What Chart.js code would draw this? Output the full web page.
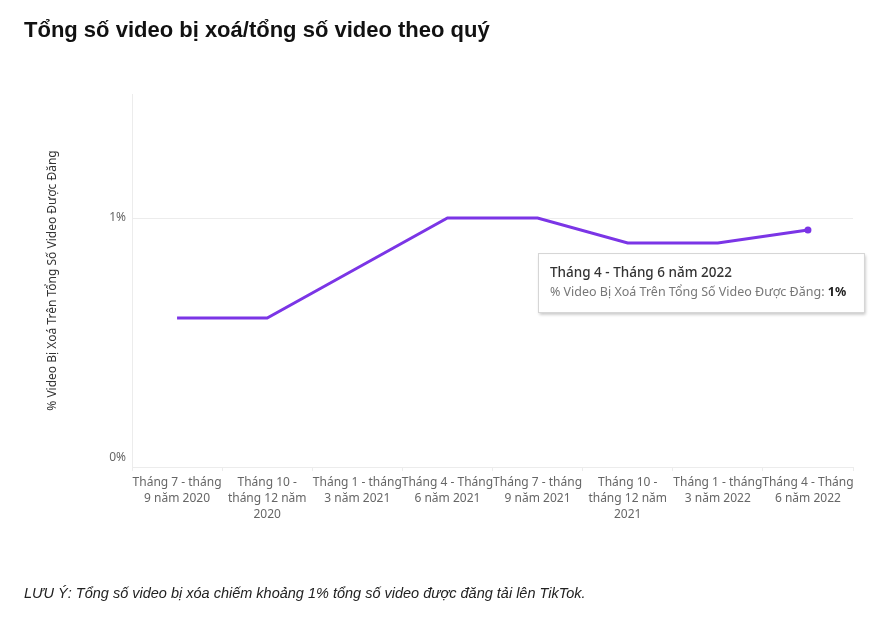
<!DOCTYPE html>
<html>
<head>
<meta charset="utf-8">
<script src="https://cdn.jsdelivr.net/npm/chart.js@4.4.1/dist/chart.umd.min.js"></script>
<style>
  html, body { margin: 0; padding: 0; background: #fff; }
  body { width: 874px; height: 627px; position: relative; overflow: hidden; }
  #title { position: absolute; left: 24px; top: 17px; font-family: "Liberation Sans", Arial, sans-serif; font-weight: bold; font-size: 22px; color: #111; white-space: nowrap; }
  #note { position: absolute; left: 24px; top: 585px; font-family: "Liberation Sans", Arial, sans-serif; font-style: italic; font-size: 14.5px; color: #222; white-space: nowrap; }
  #wrap { position: absolute; left: 0; top: 0; width: 874px; height: 627px; }
</style>
</head>
<body>
<div id="wrap"><canvas id="c" width="874" height="627"></canvas></div>
<div id="title">Tổng số video bị xoá/tổng số video theo quý</div>
<div id="note">LƯU Ý: Tổng số video bị xóa chiếm khoảng 1% tổng số video được đăng tải lên TikTok.</div>
<script>
const categories = [
  ["Tháng 7 - tháng", "9 năm 2020"],
  ["Tháng 10 -", "tháng 12 năm", "2020"],
  ["Tháng 1 - tháng", "3 năm 2021"],
  ["Tháng 4 - Tháng", "6 năm 2021"],
  ["Tháng 7 - tháng", "9 năm 2021"],
  ["Tháng 10 -", "tháng 12 năm", "2021"],
  ["Tháng 1 - tháng", "3 năm 2022"],
  ["Tháng 4 - Tháng", "6 năm 2022"]
];
const deletedShare = [0.583, 0.583, 0.792, 1.0, 1.0, 0.896, 0.896, 0.95];
const yTicks = [0, 1];
const seriesLabel = "% Video Bị Xoá Trên Tổng Số Video Được Đăng";
const tooltipTitle = "Tháng 4 - Tháng 6 năm 2022";

const purple = "#7b35e6";
const tickFont = { family: "Noto Sans", size: 12, lineHeight: 1.35 };
const lastIdx = deletedShare.length - 1;

const staticTip = {
  id: "staticTip",
  afterDatasetsDraw(chart) {
    const pt = chart.getDatasetMeta(0).data[lastIdx];
    const ctx = chart.ctx;
    const w = 327, h = 60;
    const x = pt.x - 270, y = pt.y + 23;
    ctx.save();
    ctx.shadowColor = "rgba(0,0,0,0.25)";
    ctx.shadowBlur = 3;
    ctx.shadowOffsetX = 1;
    ctx.shadowOffsetY = 2;
    ctx.fillStyle = "#fff";
    ctx.fillRect(x, y, w, h);
    ctx.restore();
    ctx.save();
    ctx.strokeStyle = "#d4d4d4";
    ctx.lineWidth = 1;
    ctx.strokeRect(x + 0.5, y + 0.5, w - 1, h - 1);
    ctx.textBaseline = "middle";
    ctx.textAlign = "left";
    ctx.font = "500 13.5px 'Noto Sans'";
    ctx.fillStyle = "#333";
    ctx.fillText(tooltipTitle, x + 12, y + 20);
    ctx.font = "12.5px 'Noto Sans'";
    ctx.fillStyle = "#777";
    const lbl = seriesLabel + ": ";
    ctx.fillText(lbl, x + 12, y + 39);
    const lw = ctx.measureText(lbl).width;
    ctx.font = "bold 12.5px 'Noto Sans'";
    ctx.fillStyle = "#222";
    ctx.fillText(Math.round(deletedShare[lastIdx]) + "%", x + 12 + lw, y + 39);
    ctx.restore();
  }
};

new Chart(document.getElementById("c"), {
  type: "line",
  data: {
    labels: categories,
    datasets: [{
      label: seriesLabel,
      data: deletedShare,
      borderColor: purple,
      backgroundColor: purple,
      borderWidth: 3,
      tension: 0,
      pointRadius: ctx => ctx.dataIndex === lastIdx ? 3.5 : 0,
      pointHoverRadius: ctx => ctx.dataIndex === lastIdx ? 3.5 : 0,
      pointBorderWidth: 0
    }]
  },
  options: {
    responsive: false,
    animation: false,
    events: [],
    layout: { padding: { left: 0, right: 21, top: 94, bottom: 0 } },
    plugins: { legend: { display: false }, tooltip: { enabled: false } },
    scales: {
      x: {
        offset: true,
        grid: { offset: true, drawOnChartArea: false, drawTicks: true, tickLength: 4, color: "#ececec" },
        border: { display: true, color: "#ececec" },
        ticks: { color: "#666", font: tickFont, maxRotation: 0, autoSkip: false, padding: 3 },
        afterFit(scale) { scale.height = 160; }
      },
      y: {
        min: -0.0375,
        max: 1.517,
        afterBuildTicks(scale) { scale.ticks = yTicks.map(v => ({ value: v })); },
        grid: { drawTicks: false, color: ctx => (ctx.tick && ctx.tick.value === 1) ? "#ececec" : "rgba(0,0,0,0)" },
        border: { display: true, color: "#ececec" },
        ticks: { color: "#666", font: tickFont, padding: 6, callback: v => v + "%" },
        title: { display: true, text: seriesLabel, color: "#333", font: { family: "Noto Sans", size: 12 }, padding: { top: 45, bottom: 0 } },
        afterFit(scale) { scale.width = 132; }
      }
    }
  },
  plugins: [staticTip]
});
</script>
</body>
</html>
